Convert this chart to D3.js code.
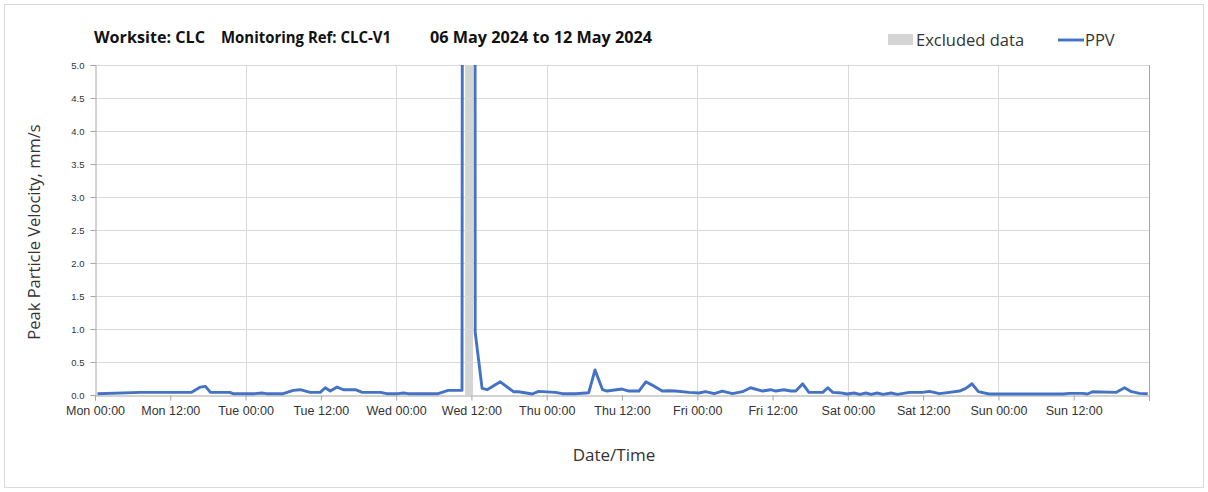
<!DOCTYPE html>
<html><head><meta charset="utf-8">
<script src="https://cdn.jsdelivr.net/npm/d3@7"></script>
<style>body{margin:0;background:#fff;} svg{display:block;font-family:"Open Sans",Lato,sans-serif;}</style>
</head><body><svg id="c" width="1208" height="492"></svg>
<script>
// Hours since Mon 06 May 2024 00:00
const hours = [0.4,7.2,15.4,16.8,17.6,18.4,21.5,22.0,25.5,26.6,27.3,30.0,31.6,32.7,34.3,35.9,36.7,37.5,38.6,39.6,41.5,42.6,45.5,46.5,48.3,49.2,49.9,54.7,56.3,58.5,58.6,60.55,60.6,61.7,62.5,64.6,66.7,67.5,69.7,70.7,73.4,74.5,76.6,78.7,79.7,80.9,81.6,84.0,85.1,86.7,87.8,88.8,90.4,91.4,92.5,94.7,96.3,97.3,98.7,100.0,101.6,103.2,104.5,106.4,107.7,108.5,109.8,110.9,111.7,112.8,113.8,116.0,116.8,117.6,118.6,119.9,121.0,121.9,122.9,123.7,124.7,125.6,126.9,127.9,129.8,131.9,133.0,134.6,136.2,137.8,138.8,139.8,140.8,142.5,154.3,155.3,157.4,158.2,159.0,162.8,164.1,165.2,166.5,167.8];
const ppv = [0.02,0.04,0.04,0.12,0.13,0.04,0.04,0.02,0.02,0.03,0.02,0.02,0.07,0.08,0.04,0.04,0.11,0.06,0.12,0.08,0.08,0.04,0.04,0.02,0.02,0.03,0.02,0.02,0.07,0.07,12,12,0.95,0.10,0.08,0.20,0.05,0.05,0.015,0.055,0.04,0.02,0.02,0.035,0.38,0.08,0.06,0.09,0.06,0.06,0.20,0.15,0.06,0.065,0.06,0.04,0.03,0.05,0.02,0.06,0.02,0.05,0.11,0.06,0.08,0.06,0.08,0.06,0.06,0.17,0.04,0.04,0.11,0.04,0.035,0.015,0.03,0.01,0.03,0.01,0.03,0.01,0.03,0.01,0.04,0.04,0.055,0.02,0.04,0.06,0.10,0.17,0.05,0.015,0.015,0.025,0.025,0.015,0.05,0.04,0.11,0.05,0.025,0.02];
const excluded = [59.0, 60.25]; // hours
const yTicks = [0,0.5,1,1.5,2,2.5,3,3.5,4,4.5,5];
const xTickLabels = ["Mon 00:00","Mon 12:00","Tue 00:00","Tue 12:00","Wed 00:00","Wed 12:00","Thu 00:00","Thu 12:00","Fri 00:00","Fri 12:00","Sat 00:00","Sat 12:00","Sun 00:00","Sun 12:00"];
const titleParts = ["Worksite: CLC","Monitoring Ref: CLC-V1","06 May 2024 to 12 May 2024"];

const start = new Date(2024,4,6,0,0);
const toDate = h => new Date(start.getTime() + h*3600000);
const svg = d3.select("#c");
const L=95, R=1149, T=65, B=395;
const x = d3.scaleTime().domain([start, toDate(168)]).range([L,R]);
const y = d3.scaleLinear().domain([0,5]).range([B,T]);

svg.append("rect").attr("x",4.5).attr("y",4.5).attr("width",1199).attr("height",483).attr("fill","none").attr("stroke","#d9d9d9");

// excluded band
svg.append("rect").attr("x",x(toDate(excluded[0]))).attr("y",T).attr("width",x(toDate(excluded[1]))-x(toDate(excluded[0]))).attr("height",B-T).attr("fill","#d4d4d4");

// horizontal gridlines
svg.append("g").selectAll("line").data(yTicks.slice(1)).join("line")
  .attr("x1",L).attr("x2",R).attr("y1",d=>y(d)+0.5).attr("y2",d=>y(d)+0.5).attr("stroke","#d9d9d9");
// vertical gridlines at day boundaries
const days = d3.range(1,8).map(d=>toDate(d*24));
svg.append("g").selectAll("line").data(days).join("line")
  .attr("x1",d=>Math.round(x(d))+0.5).attr("x2",d=>Math.round(x(d))+0.5).attr("y1",T).attr("y2",B).attr("stroke","#d9d9d9");

// axes
const yAxis = d3.axisLeft(y).tickValues(yTicks).tickFormat(d3.format(".1f")).tickSize(5).tickPadding(6);
const gy = svg.append("g").attr("transform",`translate(${L+0.5},0)`).call(yAxis);
gy.selectAll("text").attr("font-size",9.5).attr("fill","#333");
const xTicks = d3.range(0,14).map(i=>toDate(i*12));
const xAxis = d3.axisBottom(x).tickValues(xTicks).tickFormat((d,i)=>xTickLabels[i]).tickSize(5).tickPadding(6);
const gx = svg.append("g").attr("transform",`translate(0,${B+0.5})`).call(xAxis);
gx.selectAll("text").attr("font-size",12.5).attr("fill","#333");
[gx,gy].forEach(g=>{g.select(".domain").attr("stroke","#a6a6a6");g.selectAll(".tick line").attr("stroke","#a6a6a6");});
// right edge
svg.append("line").attr("x1",R+0.5).attr("x2",R+0.5).attr("y1",T).attr("y2",B+6).attr("stroke","#a6a6a6");

// clip
svg.append("clipPath").attr("id","clip").append("rect").attr("x",L).attr("y",T).attr("width",R-L).attr("height",B-T+2);
const pts = hours.map((h,i)=>[toDate(h),ppv[i]]);
svg.append("path").attr("clip-path","url(#clip)").datum(pts)
  .attr("d",d3.line().x(d=>x(d[0])).y(d=>y(d[1])))
  .attr("fill","none").attr("stroke","#4472C4").attr("stroke-width",2.9).attr("stroke-linejoin","round");

// title
const tx = [94,221,430], tw = [111,170,222];
titleParts.forEach((t,i)=>svg.append("text").attr("x",tx[i]).attr("y",43).attr("font-size",15.5).attr("font-weight","bold").attr("fill","#111")
  .attr("textLength",tw[i]).attr("lengthAdjust","spacingAndGlyphs").text(t));

// legend
svg.append("rect").attr("x",888).attr("y",34).attr("width",25).attr("height",11).attr("fill","#d4d4d4");
svg.append("text").attr("x",916).attr("y",46).attr("font-size",16.5).attr("fill","#333").text("Excluded data");
svg.append("line").attr("x1",1058).attr("x2",1084).attr("y1",40).attr("y2",40).attr("stroke","#4472C4").attr("stroke-width",2.9);
svg.append("text").attr("x",1085).attr("y",46).attr("font-size",16.5).attr("fill","#333").text("PPV");

// axis titles
svg.append("text").attr("transform","translate(40,232) rotate(-90)").attr("text-anchor","middle").attr("font-size",16.5).attr("fill","#333").text("Peak Particle Velocity, mm/s");
svg.append("text").attr("x",614).attr("y",461).attr("text-anchor","middle").attr("font-size",17).attr("fill","#333").text("Date/Time");
</script></body></html>
